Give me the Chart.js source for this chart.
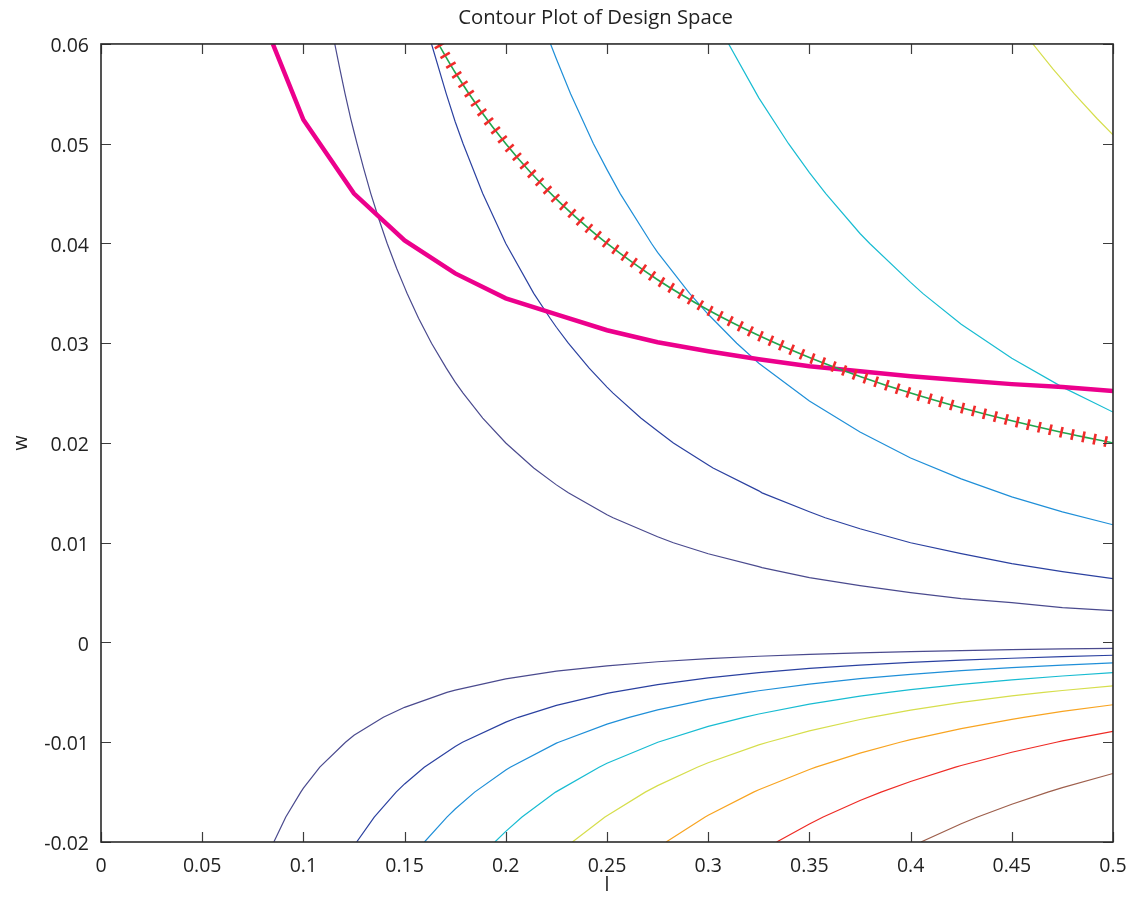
<!DOCTYPE html>
<html>
<head>
<meta charset="utf-8">
<script src="https://cdn.jsdelivr.net/npm/chart.js@4.4.1/dist/chart.umd.min.js"></script>
<style>
html,body{margin:0;padding:0;background:#fff;}
#wrap{width:1130px;height:899px;}
</style>
</head>
<body>
<div id="wrap"><canvas id="c" width="1130" height="899"></canvas></div>
<script>
// ---- Tick values and labels ----
const xTickValues = [0, 0.05, 0.1, 0.15, 0.2, 0.25, 0.3, 0.35, 0.4, 0.45, 0.5];
const xTickLabels = ['0', '0.05', '0.1', '0.15', '0.2', '0.25', '0.3', '0.35', '0.4', '0.45', '0.5'];
const yTickValues = [-0.02, -0.01, 0, 0.01, 0.02, 0.03, 0.04, 0.05, 0.06];
const yTickLabels = ['-0.02', '-0.01', '0', '0.01', '0.02', '0.03', '0.04', '0.05', '0.06'];

// ---- Contour lines, [l, w] pairs (w > 0 region) ----
const upper1 = [[0.1155,0.06],[0.1180,0.0575],[0.1206,0.055],[0.1234,0.0525],[0.125,0.0512],[0.1265,0.05],[0.1298,0.0475],[0.1333,0.045],[0.1372,0.0425],[0.1414,0.04],[0.1461,0.0375],[0.15,0.0356],[0.1512,0.035],[0.1569,0.0325],[0.1633,0.03],[0.1706,0.0275],[0.175,0.0261],[0.1789,0.025],[0.1886,0.0225],[0.2,0.02],[0.2138,0.0175],[0.225,0.0158],[0.2309,0.015],[0.25,0.0128],[0.253,0.0125],[0.275,0.0106],[0.2828,0.01],[0.3,0.0089],[0.325,0.0076],[0.3266,0.0075],[0.35,0.0065],[0.375,0.0057],[0.4,0.005],[0.425,0.0044],[0.45,0.004],[0.475,0.0035],[0.5,0.0032]];
const upper2 = [[0.1633,0.06],[0.1706,0.055],[0.175,0.0522],[0.1789,0.05],[0.1886,0.045],[0.2,0.04],[0.2138,0.035],[0.2219,0.0325],[0.225,0.0316],[0.2309,0.03],[0.2412,0.0275],[0.25,0.0256],[0.253,0.025],[0.2667,0.0225],[0.275,0.0212],[0.2828,0.02],[0.3,0.0178],[0.3024,0.0175],[0.325,0.0152],[0.3266,0.015],[0.35,0.0131],[0.3578,0.0125],[0.375,0.0114],[0.4,0.01],[0.425,0.0089],[0.45,0.0079],[0.475,0.0071],[0.5,0.0064]];
const upper3 = [[0.2221,0.06],[0.225,0.0585],[0.232,0.055],[0.2433,0.05],[0.25,0.0474],[0.2565,0.045],[0.272,0.04],[0.275,0.0391],[0.2908,0.035],[0.3,0.0329],[0.3141,0.03],[0.325,0.028],[0.35,0.0242],[0.375,0.0211],[0.4,0.0185],[0.425,0.0164],[0.45,0.0146],[0.475,0.0131],[0.5,0.0118]];
const upper4 = [[0.3101,0.06],[0.3239,0.055],[0.325,0.0546],[0.3397,0.05],[0.35,0.0471],[0.3581,0.045],[0.375,0.041],[0.3798,0.04],[0.4,0.0361],[0.406,0.035],[0.425,0.0319],[0.45,0.0285],[0.475,0.0256],[0.5,0.0231]];
const upper5 = [[0.4604,0.06],[0.4703,0.0575],[0.475,0.0564],[0.4809,0.055],[0.4922,0.0525],[0.5,0.0509]];

// ---- Contour lines, [l, w] pairs (w < 0 region) ----
const lower1 = [[0.0854,-0.02],[0.0913,-0.0175],[0.0987,-0.015],[0.1,-0.0146],[0.1081,-0.0125],[0.1208,-0.01],[0.125,-0.0093],[0.1395,-0.0075],[0.15,-0.0065],[0.1709,-0.005],[0.175,-0.00477],[0.2,-0.00365],[0.225,-0.00288],[0.25,-0.00234],[0.275,-0.00193],[0.3,-0.00162],[0.325,-0.00138],[0.35,-0.00119],[0.375,-0.00104],[0.4,-0.00091],[0.425,-0.00081],[0.45,-0.00072],[0.475,-0.00065],[0.5,-0.00058]];
const lower2 = [[0.1263,-0.02],[0.135,-0.0175],[0.1458,-0.015],[0.15,-0.01418],[0.1597,-0.0125],[0.175,-0.01042],[0.1786,-0.01],[0.2,-0.00798],[0.2062,-0.0075],[0.225,-0.0063],[0.25,-0.0051],[0.2526,-0.005],[0.275,-0.00422],[0.3,-0.00354],[0.325,-0.00302],[0.35,-0.0026],[0.375,-0.00227],[0.4,-0.00199],[0.425,-0.00177],[0.45,-0.00158],[0.475,-0.00141],[0.5,-0.00128]];
const lower3 = [[0.1598,-0.02],[0.1709,-0.0175],[0.175,-0.01669],[0.1846,-0.015],[0.2,-0.01278],[0.2022,-0.0125],[0.225,-0.01009],[0.2261,-0.01],[0.25,-0.00818],[0.261,-0.0075],[0.275,-0.00676],[0.3,-0.00568],[0.3197,-0.005],[0.325,-0.00484],[0.35,-0.00417],[0.375,-0.00363],[0.4,-0.00319],[0.425,-0.00283],[0.45,-0.00252],[0.475,-0.00226],[0.5,-0.00204]];
const lower4 = [[0.1946,-0.02],[0.2,-0.01893],[0.208,-0.0175],[0.2246,-0.015],[0.2461,-0.0125],[0.25,-0.01211],[0.2751,-0.01],[0.3,-0.00841],[0.3177,-0.0075],[0.325,-0.00717],[0.35,-0.00618],[0.375,-0.00538],[0.3891,-0.005],[0.4,-0.00473],[0.425,-0.00419],[0.45,-0.00374],[0.475,-0.00336],[0.5,-0.00303]];
const lower5 = [[0.2329,-0.02],[0.249,-0.0175],[0.25,-0.01736],[0.2689,-0.015],[0.275,-0.01435],[0.2946,-0.0125],[0.3,-0.01206],[0.325,-0.01027],[0.3294,-0.01],[0.35,-0.00886],[0.375,-0.00772],[0.3803,-0.0075],[0.4,-0.00678],[0.425,-0.00601],[0.45,-0.00536],[0.4658,-0.005],[0.475,-0.00481],[0.5,-0.00434]];
const lower6 = [[0.2792,-0.02],[0.2985,-0.0175],[0.3,-0.01732],[0.3224,-0.015],[0.325,-0.01476],[0.35,-0.01273],[0.3532,-0.0125],[0.375,-0.01109],[0.3948,-0.01],[0.4,-0.00974],[0.425,-0.00863],[0.45,-0.0077],[0.4559,-0.0075],[0.475,-0.00691],[0.5,-0.00624]];
const lower7 = [[0.3338,-0.02],[0.35,-0.01819],[0.3568,-0.0175],[0.375,-0.01584],[0.3854,-0.015],[0.4,-0.01393],[0.4222,-0.0125],[0.425,-0.01233],[0.45,-0.011],[0.472,-0.01],[0.475,-0.00987],[0.5,-0.00891]];
const lower8 = [[0.4051,-0.02],[0.425,-0.01817],[0.4331,-0.0175],[0.45,-0.01621],[0.4678,-0.015],[0.475,-0.01455],[0.5,-0.01313]];

// ---- Design curves ----
const magentaCurve = [[0.0849,0.06],[0.1,0.0524],[0.125,0.045],[0.15,0.0403],[0.175,0.037],[0.2,0.0345],[0.225,0.0329],[0.25,0.0313],[0.275,0.0301],[0.3,0.0292],[0.325,0.0284],[0.35,0.0277],[0.375,0.0272],[0.4,0.0267],[0.425,0.0263],[0.45,0.0259],[0.475,0.0256],[0.5,0.0252]];
const constraintCurve = [[0.1667,0.06],[0.175,0.05714],[0.1875,0.05333],[0.2,0.05],[0.2125,0.04706],[0.225,0.04444],[0.2375,0.04211],[0.25,0.04],[0.275,0.03636],[0.3,0.03333],[0.325,0.03077],[0.35,0.02857],[0.375,0.02667],[0.4,0.025],[0.425,0.02353],[0.45,0.02222],[0.475,0.02105],[0.5,0.02]];

// ---- Styles ----
const FONT = '"Open Sans", "Noto Sans", sans-serif';
const levelColors = ['#4a4a8e', '#2b41a0', '#1f8fd8', '#18bcd2', '#d6de4c', '#f8a421', '#ee2b25', '#9e5f4c'];

const toPts = arr => arr.map(p => ({x: p[0], y: p[1]}));

const datasets = [];
datasets.push({label: 'constraint', data: toPts(constraintCurve), borderColor: '#1fa64e', borderWidth: 1.6, cubicInterpolationMode: 'monotone'});
datasets.push({label: 'design', data: toPts(magentaCurve), borderColor: '#ec008c', borderWidth: 4.5, tension: 0});
const uppers = [upper1, upper2, upper3, upper4, upper5];
const lowers = [lower1, lower2, lower3, lower4, lower5, lower6, lower7, lower8];
uppers.forEach((c, i) => datasets.push({label: 'u' + i, data: toPts(c), borderColor: levelColors[i], borderWidth: 1.2, tension: 0}));
lowers.forEach((c, i) => datasets.push({label: 'l' + i, data: toPts(c), borderColor: levelColors[i], borderWidth: 1.2, tension: 0}));
datasets.forEach(d => { d.showLine = true; d.pointRadius = 0; d.pointHoverRadius = 0; d.fill = false; });

const titleShift = {
  id: 'titleShift',
  afterLayout(chart) {
    const tb = chart.titleBlock;
    if (tb) { tb.left = 78; tb.right = chart.chartArea.right; }
  }
};

const hatchPlugin = {
  id: 'hatch',
  afterDatasetsDraw(chart) {
    const meta = chart.getDatasetMeta(0);
    const pts = meta.data.map(p => ({x: p.x, y: p.y}));
    const a = chart.chartArea;
    const ctx = chart.ctx;
    ctx.save();
    ctx.beginPath();
    ctx.rect(a.left, a.top, a.right - a.left, a.bottom - a.top);
    ctx.clip();
    ctx.strokeStyle = '#f02b2b';
    ctx.lineWidth = 2.6;
    ctx.lineCap = 'butt';
    const spacing = 11.3, half = 5.4;
    let next = 2;
    let acc = 0;
    for (let i = 0; i < pts.length - 1; i++) {
      const p = pts[i], q = pts[i + 1];
      const dx = q.x - p.x, dy = q.y - p.y;
      const len = Math.hypot(dx, dy);
      if (len === 0) continue;
      const ux = dx / len, uy = dy / len;
      const nx = uy, ny = -ux;
      while (next <= acc + len) {
        const t = next - acc;
        const cx = p.x + ux * t, cy = p.y + uy * t;
        ctx.beginPath();
        ctx.moveTo(cx - nx * half, cy - ny * half);
        ctx.lineTo(cx + nx * half, cy + ny * half);
        ctx.stroke();
        next += spacing;
      }
      acc += len;
    }
    ctx.restore();
  }
};

const framePlugin = {
  id: 'frame',
  afterDraw(chart) {
    const {ctx, chartArea: a, scales: {x, y}} = chart;
    ctx.save();
    ctx.strokeStyle = '#3c3c3c';
    ctx.lineWidth = 1.2;
    const tl = 10;
    x.ticks.forEach(t => {
      const px = Math.round(x.getPixelForValue(t.value)) + 0.5;
      ctx.beginPath();
      ctx.moveTo(px, a.bottom); ctx.lineTo(px, a.bottom - tl);
      ctx.moveTo(px, a.top); ctx.lineTo(px, a.top + tl);
      ctx.stroke();
    });
    y.ticks.forEach(t => {
      const py = Math.round(y.getPixelForValue(t.value)) + 0.5;
      ctx.beginPath();
      ctx.moveTo(a.left, py); ctx.lineTo(a.left + tl, py);
      ctx.moveTo(a.right, py); ctx.lineTo(a.right - tl, py);
      ctx.stroke();
    });
    ctx.strokeStyle = '#2a2a2a';
    ctx.lineWidth = 1.6;
    ctx.strokeRect(a.left, a.top, a.right - a.left, a.bottom - a.top);
    ctx.restore();
  }
};

new Chart(document.getElementById('c'), {
  type: 'scatter',
  data: {datasets},
  plugins: [titleShift, hatchPlugin, framePlugin],
  options: {
    responsive: false,
    animation: false,
    devicePixelRatio: 1,
    events: [],
    layout: {padding: {left: 0, right: 17, top: 0, bottom: 0}},
    plugins: {
      legend: {display: false},
      tooltip: {enabled: false},
      title: {
        display: true,
        text: 'Contour Plot of Design Space',
        color: '#222',
        font: {family: FONT, size: 20.3, weight: 'normal'},
        padding: {top: 6, bottom: 13.6}
      }
    },
    scales: {
      x: {
        type: 'linear', min: 0, max: 0.5,
        grid: {display: false},
        border: {display: false},
        afterBuildTicks: s => { s.ticks = xTickValues.map(v => ({value: v})); },
        afterFit: s => { s.height = 57; s.paddingLeft = 0; s.paddingRight = 0; },
        ticks: {
          color: '#222', font: {family: FONT, size: 19.5}, padding: 5, maxRotation: 0, autoSkip: false,
          callback: (v, i) => xTickLabels[i]
        },
        title: {display: true, text: 'l', color: '#222', font: {family: FONT, size: 19.5}, padding: {top: 0, bottom: 2}}
      },
      y: {
        type: 'linear', min: -0.02, max: 0.06,
        grid: {display: false},
        border: {display: false},
        afterBuildTicks: s => { s.ticks = yTickValues.map(v => ({value: v})); },
        afterFit: s => { s.width = 101; },
        ticks: {
          color: '#222', font: {family: FONT, size: 19.5}, padding: 4, labelOffset: 2.5, autoSkip: false,
          callback: (v, i) => yTickLabels[i]
        },
        title: {display: true, text: 'w', color: '#222', font: {family: FONT, size: 19.5}, padding: {top: 10, bottom: 0}}
      }
    }
  }
});
</script>
</body>
</html>
